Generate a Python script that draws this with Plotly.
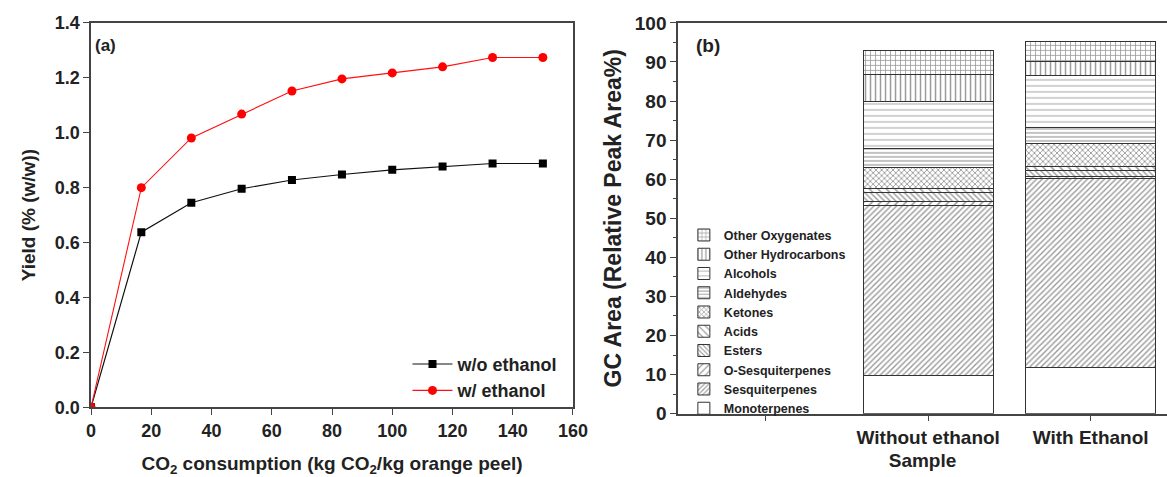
import plotly.graph_objects as go

# ---- Panel (a) data ----
co2 = [0, 16.7, 33.3, 50, 66.7, 83.3, 100, 116.7, 133.3, 150]
yield_wo = [0, 0.638, 0.745, 0.796, 0.828, 0.848, 0.865, 0.877, 0.888, 0.888]
yield_w = [0, 0.800, 0.981, 1.068, 1.152, 1.196, 1.218, 1.240, 1.274, 1.274]

# ---- Panel (b) data ----
samples = ["Without ethanol", "With Ethanol"]
axis_categories = [" ", "Without ethanol", "With Ethanol"]
compounds = ["Monoterpenes", "Sesquiterpenes", "O-Sesquiterpenes", "Esters", "Acids",
             "Ketones", "Aldehydes", "Alcohols", "Other Hydrocarbons", "Other Oxygenates"]
area_without = [9.8, 43.6, 0.8, 2.5, 0.9, 5.3, 5.0, 11.9, 7.1, 6.1]
area_with = [11.9, 48.2, 0.5, 1.6, 1.0, 6.0, 4.0, 13.4, 3.4, 5.2]

patterns = {
    "Monoterpenes": dict(shape=""),
    "Sesquiterpenes": dict(shape="/", size=4, solidity=0.35),
    "O-Sesquiterpenes": dict(shape="/", size=6, solidity=0.25),
    "Esters": dict(shape="\\", size=4, solidity=0.35),
    "Acids": dict(shape="\\", size=6, solidity=0.25),
    "Ketones": dict(shape="x", size=4, solidity=0.4),
    "Aldehydes": dict(shape="-", size=4, solidity=0.3),
    "Alcohols": dict(shape="-", size=6, solidity=0.15),
    "Other Hydrocarbons": dict(shape="|", size=5, solidity=0.3),
    "Other Oxygenates": dict(shape="+", size=5, solidity=0.3),
}

FONT = "Liberation Sans, Arial, sans-serif"
AX = "#444444"
TXT = "#222222"

fig = go.Figure()

fig.add_trace(go.Scatter(
    x=co2, y=yield_wo, name="w/o ethanol", mode="lines+markers",
    line=dict(color="#111111", width=1.2),
    marker=dict(symbol="square", size=8, color="#000000"),
    xaxis="x", yaxis="y", legend="legend"))
fig.add_trace(go.Scatter(
    x=co2, y=yield_w, name="w/ ethanol", mode="lines+markers",
    line=dict(color="#ff1010", width=1.1),
    marker=dict(symbol="circle", size=9, color="#ff0000"),
    xaxis="x", yaxis="y", legend="legend"))

for i, comp in enumerate(compounds):
    p = dict(patterns[comp])
    p.update(fgcolor="#333333", bgcolor="white", fillmode="overlay")
    fig.add_trace(go.Bar(
        x=samples, y=[area_without[i], area_with[i]], name=comp,
        marker=dict(color="white", line=dict(color="#333333", width=1), pattern=p),
        width=0.8, xaxis="x2", yaxis="y2", legend="legend2"))

fig.update_layout(
    width=1167, height=477,
    margin=dict(l=0, r=0, t=0, b=0, autoexpand=False),
    paper_bgcolor="white", plot_bgcolor="white",
    font=dict(family=FONT, color=TXT),
    barmode="stack",
    showlegend=True,
    xaxis=dict(domain=[0.078, 0.491], range=[0, 160], dtick=20, automargin=False,
               showline=True, linecolor=AX, linewidth=1.5, mirror=True,
               ticks="outside", ticklen=6, tickcolor=AX, showgrid=False, zeroline=False,
               tickfont=dict(size=18, family=FONT, weight="bold", color=TXT),
               title=dict(text="CO<sub>2</sub> consumption (kg CO<sub>2</sub>/kg orange peel)",
                          font=dict(size=19, family=FONT, weight="bold", color=TXT), standoff=17)),
    yaxis=dict(domain=[0.146, 0.952], range=[0, 1.4], dtick=0.2, tickformat=".1f", automargin=False,
               showline=True, linecolor=AX, linewidth=1.5, mirror=True,
               ticks="outside", ticklen=6, tickcolor=AX, showgrid=False, zeroline=False,
               tickfont=dict(size=18, family=FONT, weight="bold", color=TXT),
               title=dict(text="Yield (% (w/w))",
                          font=dict(size=19, family=FONT, weight="bold", color=TXT), standoff=14)),
    xaxis2=dict(domain=[0.581, 1.0], type="category", automargin=False,
                categoryorder="array", categoryarray=axis_categories,
                range=[-0.54, 2.47],
                showline=True, linecolor=AX, linewidth=1.5, mirror=True,
                ticks="outside", ticklen=6, tickcolor=AX, showgrid=False,
                tickfont=dict(size=19, family=FONT, weight="bold", color=TXT),
                title=dict(text="Sample", font=dict(size=19, family=FONT, weight="bold", color=TXT),
                           standoff=6),
                anchor="y2"),
    yaxis2=dict(domain=[0.1327, 0.952], range=[0, 100], dtick=10, automargin=False,
                showline=True, linecolor=AX, linewidth=1.5,
                ticks="outside", ticklen=6, tickcolor=AX, showgrid=False, zeroline=False,
                minor=dict(dtick=5, ticks="outside", ticklen=3, tickcolor=AX),
                tickfont=dict(size=19, family=FONT, weight="bold", color=TXT),
                title=dict(text="GC Area (Relative Peak Area%)",
                           font=dict(size=23, family=FONT, weight="bold", color=TXT), standoff=7),
                anchor="x2"),
    legend=dict(x=0.482, y=0.143, xanchor="right", yanchor="bottom",
                bgcolor="rgba(0,0,0,0)", borderwidth=0,
                font=dict(size=18, family=FONT, weight="bold", color=TXT),
                itemwidth=40, tracegroupgap=0),
    legend2=dict(x=0.586, y=0.538, xanchor="left", yanchor="top",
                 bgcolor="rgba(0,0,0,0)", borderwidth=0, traceorder="reversed",
                 font=dict(size=12.5, family=FONT, weight="bold", color=TXT),
                 itemwidth=30, tracegroupgap=0),
    annotations=[
        dict(text="(a)", x=0.08, y=0.905, xref="paper", yref="paper",
             xanchor="left", yanchor="middle", showarrow=False,
             font=dict(size=17, family=FONT, weight="bold", color=TXT)),
        dict(text="(b)", x=0.595, y=0.905, xref="paper", yref="paper",
             xanchor="left", yanchor="middle", showarrow=False,
             font=dict(size=19, family=FONT, weight="bold", color=TXT)),
    ],
)

fig.write_html("out.html", config={"displayModeBar": False},
               post_script="document.body.style.margin='0';document.body.style.padding='0';")
